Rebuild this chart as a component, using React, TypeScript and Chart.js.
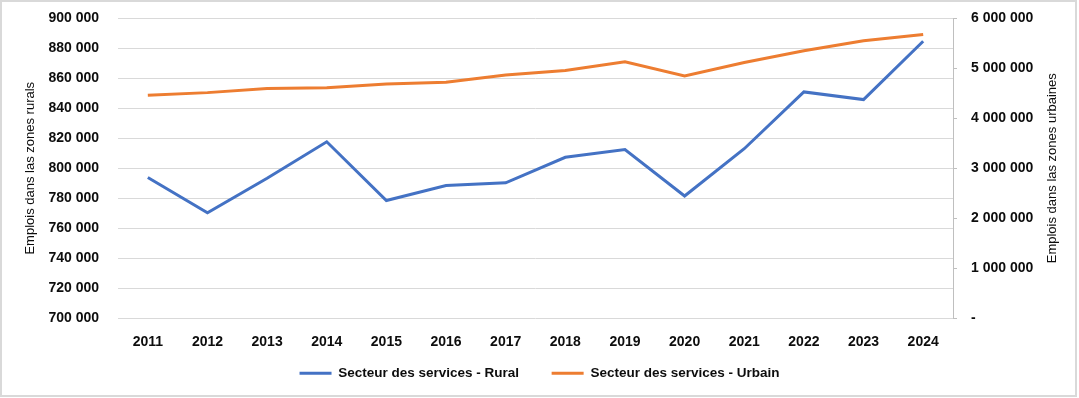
import React, { useEffect, useRef } from "react";
import { Chart, registerables } from "chart.js";

Chart.register(...registerables);

const years = ["2011", "2012", "2013", "2014", "2015", "2016", "2017", "2018", "2019", "2020", "2021", "2022", "2023", "2024"];
const ruralServices = [793800, 770300, 793300, 817600, 778500, 788500, 790300, 807300, 812500, 781500, 813000, 850800, 845700, 884500];
const urbanServices = [4460000, 4510000, 4590000, 4605000, 4680000, 4715000, 4860000, 4950000, 5125000, 4845000, 5110000, 5345000, 5545000, 5670000];
const seriesNames = ["Secteur des services - Rural", "Secteur des services - Urbain"];
const leftTitle = "Emplois dans las zones rurals";
const rightTitle = "Emplois dans las zones urbaines";

const fmt = (v: number) => String(Math.round(v)).replace(/\B(?=(\d{3})+(?!\d))/g, " ");
const font = "'Liberation Sans', Arial, sans-serif";

// Draws the right axis title reading bottom-to-top (like the left one)
const rightTitlePlugin = {
  id: "rightTitleUp",
  afterDraw(chart: any) {
    const { ctx, chartArea } = chart;
    const scale = chart.scales.y1;
    ctx.save();
    ctx.fillStyle = "#0d0d0d";
    ctx.font = `13px ${font}`;
    ctx.textAlign = "center";
    ctx.textBaseline = "middle";
    ctx.translate(scale.right - 27, (chartArea.top + chartArea.bottom) / 2);
    ctx.rotate(-Math.PI / 2);
    ctx.fillText(rightTitle, 0, 0);
    ctx.restore();
  },
};

export default function App() {
  const ref = useRef<HTMLCanvasElement | null>(null);
  useEffect(() => {
    if (!ref.current) return;
    const chart = new Chart(ref.current, {
      type: "line",
      data: {
        labels: years,
        datasets: [
          {
            label: seriesNames[0],
            data: ruralServices,
            borderColor: "#4472C4",
            backgroundColor: "#4472C4",
            borderWidth: 3,
            pointRadius: 0,
            tension: 0,
            yAxisID: "y",
          },
          {
            label: seriesNames[1],
            data: urbanServices,
            borderColor: "#ED7D31",
            backgroundColor: "#ED7D31",
            borderWidth: 3,
            pointRadius: 0,
            tension: 0,
            yAxisID: "y1",
          },
        ],
      },
      options: {
        responsive: false,
        animation: false,
        layout: { padding: { top: 18, left: 0, right: 0, bottom: 8 } },
        plugins: {
          tooltip: { enabled: false },
          legend: {
            position: "bottom",
            labels: {
              usePointStyle: true,
              pointStyle: "line",
              pointStyleWidth: 32,
              padding: 10,
              color: "#0d0d0d",
              font: { family: font, size: 13.5, weight: "bold" },
              generateLabels: (c: any) => {
                const items = Chart.defaults.plugins.legend.labels.generateLabels(c);
                if (items[0]) items[0].text = items[0].text + "      ";
                return items;
              },
            },
          },
        },
        scales: {
          x: {
            offset: true,
            grid: { display: false },
            border: { display: false },
            ticks: {
              color: "#0d0d0d",
              padding: 7,
              maxRotation: 0,
              font: { family: font, size: 14, weight: "bold" },
            },
            afterFit: (s: any) => {
              s.height = 38;
            },
          },
          y: {
            position: "left",
            min: 700000,
            max: 900000,
            grid: { color: "#d9d9d9", lineWidth: 1, drawTicks: false },
            border: { display: false },
            ticks: {
              stepSize: 20000,
              padding: 19,
              color: "#0d0d0d",
              font: { family: font, size: 14, weight: "bold" },
              callback: (v: any) => fmt(Number(v)),
            },
            title: {
              display: true,
              text: leftTitle,
              color: "#0d0d0d",
              padding: { top: 23, bottom: 0 },
              font: { family: font, size: 13 },
            },
            afterFit: (s: any) => {
              s.width = 118;
              s.paddingTop = 0;
              s.paddingBottom = 0;
            },
          },
          y1: {
            position: "right",
            min: 0,
            max: 6000000,
            grid: { drawOnChartArea: false, drawTicks: true, tickLength: 4, color: "#bfbfbf" },
            border: { display: true, color: "#bfbfbf" },
            ticks: {
              stepSize: 1000000,
              padding: 14,
              color: "#0d0d0d",
              font: { family: font, size: 14, weight: "bold" },
              callback: (v: any) => (Number(v) === 0 ? "-" : fmt(Number(v))),
            },
            afterFit: (s: any) => {
              s.width = 126;
              s.paddingTop = 0;
              s.paddingBottom = 0;
            },
          },
        },
      },
      plugins: [rightTitlePlugin],
    });
    return () => chart.destroy();
  }, []);
  return (
    <div style={{ position: "fixed", left: 0, top: 0, width: 1079, height: 398, background: "#fff" }}>
      <canvas ref={ref} width={1079} height={398} style={{ width: 1079, height: 398, display: "block" }} />
      <div
        style={{
          position: "absolute",
          left: 0,
          top: 0,
          width: 1077,
          height: 397,
          border: "2px solid #d9d9d9",
          boxSizing: "border-box",
          pointerEvents: "none",
        }}
      />
    </div>
  );
}
